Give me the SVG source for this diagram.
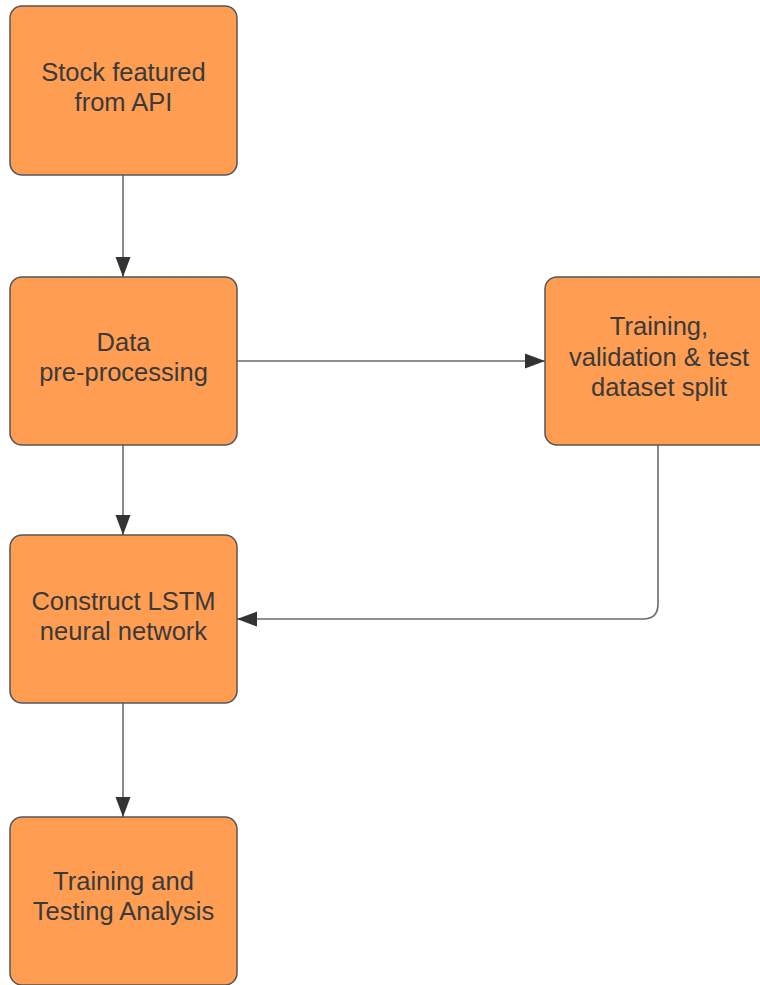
<svg xmlns="http://www.w3.org/2000/svg" width="760" height="985" viewBox="0 0 760 985">
  <defs>
    <style>
      .box { fill: #FF9D52; stroke: #555555; stroke-width: 1.5; }
      .label { font-family: "Liberation Sans", Arial, sans-serif; font-size: 25.5px; fill: #3a3a3a; text-anchor: middle; }
      .edge { fill: none; stroke: #6b6b6b; stroke-width: 1.6; }
    </style>
    <marker id="arrow" viewBox="0 0 20 16" refX="20" refY="8" markerWidth="20" markerHeight="16" markerUnits="userSpaceOnUse" orient="auto">
      <path d="M0,0.5 L20,8 L0,15.5 Z" fill="#333333"/>
    </marker>
  </defs>
  <rect width="760" height="985" fill="#ffffff"/>

  <g id="connectors">
    <path class="edge" d="M123,175 L123,277" marker-end="url(#arrow)"/>
    <path class="edge" d="M237,361 L545,361" marker-end="url(#arrow)"/>
    <path class="edge" d="M123,445 L123,535" marker-end="url(#arrow)"/>
    <path class="edge" d="M658,445 L658,604 Q658,619 643,619 L237,619" marker-end="url(#arrow)"/>
    <path class="edge" d="M123,703 L123,817" marker-end="url(#arrow)"/>
  </g>

  <g id="node-api">
    <rect class="box" x="10" y="6" width="227" height="169" rx="12"/>
    <text class="label" x="123.5" y="81">Stock featured</text>
    <text class="label" x="123.5" y="111">from API</text>
  </g>

  <g id="node-preprocess">
    <rect class="box" x="10" y="277" width="227" height="168" rx="12"/>
    <text class="label" x="123.5" y="351">Data</text>
    <text class="label" x="123.5" y="381">pre-processing</text>
  </g>

  <g id="node-split">
    <rect class="box" x="545" y="277" width="227" height="168" rx="12"/>
    <text class="label" x="659" y="335">Training,</text>
    <text class="label" x="659" y="366">validation &amp; test</text>
    <text class="label" x="659" y="396">dataset split</text>
  </g>

  <g id="node-lstm">
    <rect class="box" x="10" y="535" width="227" height="168" rx="12"/>
    <text class="label" x="123.5" y="610">Construct LSTM</text>
    <text class="label" x="123.5" y="640">neural network</text>
  </g>

  <g id="node-analysis">
    <rect class="box" x="10" y="817" width="227" height="168" rx="12"/>
    <text class="label" x="123.5" y="890">Training and</text>
    <text class="label" x="123.5" y="920">Testing Analysis</text>
  </g>
</svg>
